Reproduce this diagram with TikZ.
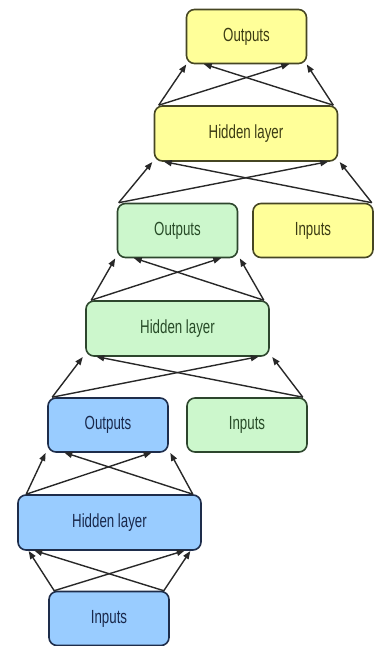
\documentclass[tikz,border=0pt]{standalone}
\usepackage{fontspec}
\usetikzlibrary{arrows.meta}
\newfontfamily\labfont[FakeStretch=0.7]{Liberation Sans}

\definecolor{ylwfill}{RGB}{255,255,153}
\definecolor{ylwline}{RGB}{70,70,35}
\definecolor{ylwtext}{RGB}{60,60,20}
\definecolor{grnfill}{RGB}{204,247,204}
\definecolor{grnline}{RGB}{45,70,45}
\definecolor{grntext}{RGB}{40,75,40}
\definecolor{blufill}{RGB}{153,204,255}
\definecolor{bluline}{RGB}{30,45,75}
\definecolor{blutext}{RGB}{25,40,75}
\definecolor{linkcol}{RGB}{40,40,40}

\tikzset{
  unit/.style={rectangle, rounded corners=8pt, line width=1.6pt,
    font=\labfont\fontsize{19}{22}\selectfont, inner sep=0pt},
  small/.style={unit, minimum width=120pt, minimum height=54pt},
  wide/.style={unit, minimum width=183pt, minimum height=55pt},
  ylw/.style={fill=ylwfill, draw=ylwline, text=ylwtext},
  grn/.style={fill=grnfill, draw=grnline, text=grntext},
  blu/.style={fill=blufill, draw=bluline, text=blutext},
  link/.style={draw=linkcol, line width=1.4pt,
    -{Triangle[length=8pt,width=6pt]}, shorten >=-1pt},
}

% four crossing links from the top corners of the sources to the bottom of a target
% #1 left source, #2 right source, #3 target, #4 source inset,
% #5 outer target inset, #6 inner target inset
\newcommand\feedlinks[6]{%
  \draw[link] ([xshift=#4]#1.north west) -- ([xshift=#5,yshift=-1pt]#3.south west);
  \draw[link] ([xshift=#4]#1.north west) -- ([xshift=-#6]#3.south east);
  \draw[link] ([xshift=-#4]#2.north east) -- ([xshift=-#5,yshift=-1pt]#3.south east);
  \draw[link] ([xshift=-#4]#2.north east) -- ([xshift=#6]#3.south west);
}

\begin{document}
\begin{tikzpicture}[x=1pt, y=-1pt]
  \useasboundingbox (0,0) rectangle (374,646);

  % top network
  \node[small, ylw] (yout) at (246.5,36.5) {Outputs};
  \node[wide,  ylw] (yhid) at (246,133.5) {Hidden layer};
  \node[small, ylw] (yin)  at (313,230.5) {Inputs};

  % middle network
  \node[small, grn] (gout) at (177.5,230.5) {Outputs};
  \node[wide,  grn] (ghid) at (177.5,328.5) {Hidden layer};
  \node[small, grn] (gin)  at (247,425) {Inputs};

  % bottom network
  \node[small, blu] (bout) at (108,425) {Outputs};
  \node[wide,  blu] (bhid) at (109.5,522.5) {Hidden layer};
  \node[small, blu] (bin)  at (109,618.5) {Inputs};

  \feedlinks{yhid}{yhid}{yout}{5pt}{0pt}{19pt}
  \feedlinks{gout}{yin}{yhid}{2pt}{-2pt}{11pt}
  \feedlinks{ghid}{ghid}{gout}{6pt}{-2pt}{18pt}
  \feedlinks{bout}{gin}{ghid}{5pt}{-3pt}{12pt}
  \feedlinks{bhid}{bhid}{bout}{9pt}{-2pt}{18pt}
  \feedlinks{bin}{bin}{bhid}{6pt}{12pt}{18pt}
\end{tikzpicture}
\end{document}
